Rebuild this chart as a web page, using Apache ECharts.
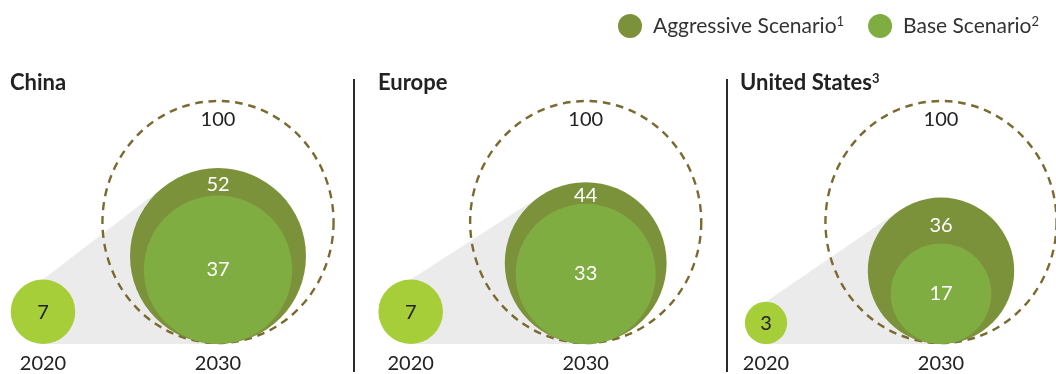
<!DOCTYPE html>
<html>
<head>
<meta charset="utf-8">
<script src="https://cdn.jsdelivr.net/npm/echarts@6/dist/echarts.min.js"></script>
<style>
  html, body { margin: 0; padding: 0; background: #fff; }
  #chart { width: 1056px; height: 374px; }
</style>
</head>
<body>
<div id="chart"></div>
<script>
// Installed base in 2020 and the two 2030 scenarios, per region (index = 100 for the reference ring)
const regions = ['China', 'Europe', 'United States'];
const regionNotes = ['', '', '3'];
const years = ['2020', '2030'];
const installed2020 = [7, 7, 3];
const aggressive2030 = [52, 44, 36];
const base2030 = [37, 33, 17];
const reference2030 = [100, 100, 100];
const scenarioNames = ['Aggressive Scenario', 'Base Scenario'];
const scenarioNotes = ['1', '2'];

const FONT = 'Lato';
const COLORS = {
  y2020: '#a6ce39',
  aggressive: '#7b923b',
  base: '#80ad41',
  ring: '#7a6a30',
  cone: '#ebebeb',
  dark: '#222222'
};
// left edge of each panel's grid = centre of its 2020 bubble
const panelLeft = [43, 410.7, 766];
const titleLeft = [5, 373, 735];
const yearGap = 175;

// bubble area is proportional to the value; the 100 ring has radius 1 axis unit
const rad = v => Math.sqrt(v / 100);

function bubble(api, x, v) {
  const r = api.size([0, rad(v)])[1];
  const c = api.coord([x, rad(v)]);
  return { cx: c[0], cy: c[1], r: r };
}

const grid = [], xAxis = [], yAxis = [], series = [], title = [];

regions.forEach((name, i) => {
  grid.push({ left: panelLeft[i], width: yearGap, top: 100, height: 247 });
  xAxis.push({
    gridIndex: i, type: 'value', min: 0, max: 1, interval: 1,
    axisLine: { show: false }, axisTick: { show: false }, splitLine: { show: false },
    axisLabel: {
      show: true, margin: 10, fontSize: 20, color: COLORS.dark, fontFamily: FONT,
      formatter: v => years[v]
    }
  });
  yAxis.push({ gridIndex: i, type: 'value', min: 0, max: 2, show: false });

  title.push({
    text: '{b|' + name + '}' + (regionNotes[i] ? '{sup|' + regionNotes[i] + '}' : ''),
    left: titleLeft[i], top: 67,
    textStyle: {
      rich: {
        b: { fontSize: 22, fontWeight: 'bold', color: COLORS.dark, fontFamily: FONT },
        sup: { fontSize: 13, fontWeight: 'bold', color: COLORS.dark, fontFamily: FONT, verticalAlign: 'top' }
      }
    }
  });

  const common = { type: 'custom', xAxisIndex: i, yAxisIndex: i, encode: { x: 0, y: 1 }, silent: true, clip: false };

  // grey cone from the 2020 bubble to the aggressive 2030 bubble
  series.push(Object.assign({}, common, {
    name: 'cone-' + i,
    data: [[0, installed2020[i], aggressive2030[i]]],
    renderItem: (params, api) => {
      const s = bubble(api, api.value(0), api.value(1));
      const b = bubble(api, 1, api.value(2));
      const px = s.cx, py = s.cy - s.r;
      const dx = px - b.cx, dy = py - b.cy;
      const d = Math.sqrt(dx * dx + dy * dy);
      const theta = Math.atan2(dy, dx);
      const alpha = Math.acos(b.r / d);
      const t1 = [b.cx + b.r * Math.cos(theta + alpha), b.cy + b.r * Math.sin(theta + alpha)];
      const t2 = [b.cx + b.r * Math.cos(theta - alpha), b.cy + b.r * Math.sin(theta - alpha)];
      const t = t1[1] < t2[1] ? t1 : t2;
      const bottom = b.cy + b.r;
      return {
        type: 'polygon',
        shape: { points: [[px, py], t, [b.cx, b.cy], [b.cx, bottom], [px, bottom]] },
        style: { fill: COLORS.cone }
      };
    }
  }));

  // 2020 bubble
  series.push(Object.assign({}, common, {
    name: '2020-' + i,
    data: [[0, installed2020[i]]],
    renderItem: (params, api) => {
      const s = bubble(api, api.value(0), api.value(1));
      return { type: 'circle', shape: s, style: { fill: COLORS.y2020 } };
    }
  }));

  // dashed 100 reference ring
  series.push(Object.assign({}, common, {
    name: 'ref-' + i,
    data: [[1, reference2030[i]]],
    renderItem: (params, api) => {
      const s = bubble(api, api.value(0), api.value(1));
      return {
        type: 'circle', x: s.cx, y: s.cy, scaleX: 0.955,
        shape: { cx: 0, cy: 0, r: s.r - 1 },
        style: { fill: 'none', stroke: COLORS.ring, lineWidth: 2.5, lineDash: [8, 6], strokeNoScale: true }
      };
    }
  }));

  // aggressive scenario
  series.push(Object.assign({}, common, {
    name: scenarioNames[0],
    itemStyle: { color: COLORS.aggressive },
    data: [[1, aggressive2030[i]]],
    renderItem: (params, api) => {
      const s = bubble(api, api.value(0), api.value(1));
      return { type: 'circle', shape: s, style: { fill: COLORS.aggressive } };
    }
  }));

  // base scenario
  series.push(Object.assign({}, common, {
    name: scenarioNames[1],
    itemStyle: { color: COLORS.base },
    data: [[1, base2030[i]]],
    renderItem: (params, api) => {
      const s = bubble(api, api.value(0), api.value(1));
      return { type: 'circle', shape: s, style: { fill: COLORS.base } };
    }
  }));

  // value labels
  series.push(Object.assign({}, common, {
    name: 'labels-' + i,
    data: [[0, installed2020[i], installed2020[i], aggressive2030[i], base2030[i], reference2030[i]]],
    renderItem: (params, api) => {
      const s = bubble(api, 0, api.value(2));
      const a = bubble(api, 1, api.value(3));
      const b = bubble(api, 1, api.value(4));
      const ref = bubble(api, 1, api.value(5));
      const aTop = a.cy - a.r, bTop = b.cy - b.r;
      const txt = (x, y, text, fill) => ({
        type: 'text', x: x, y: y,
        style: { text: String(text), fill: fill, fontSize: 20, fontFamily: FONT, align: 'center', verticalAlign: 'middle' }
      });
      return {
        type: 'group',
        children: [
          txt(s.cx, s.cy + 1, api.value(2), COLORS.dark),
          txt(ref.cx, ref.cy - ref.r + 20, api.value(5), COLORS.dark),
          txt(a.cx, aTop + 0.6 * (bTop - aTop), api.value(3), '#ffffff'),
          txt(b.cx, b.cy, api.value(4), '#ffffff')
        ]
      };
    }
  }));
});

const chart = echarts.init(document.getElementById('chart'), null, { renderer: 'canvas' });
chart.setOption({
  backgroundColor: '#ffffff',
  animation: false,
  title: title,
  legend: {
    data: scenarioNames,
    left: 613, top: 9,
    icon: 'circle', itemWidth: 24, itemHeight: 24, itemGap: 24,
    selectedMode: false,
    formatter: n => n + '{sup|' + scenarioNotes[scenarioNames.indexOf(n)] + '}',
    textStyle: {
      fontSize: 21, color: '#333333', fontFamily: FONT, padding: [0, 0, 0, 6],
      rich: { sup: { fontSize: 13, color: '#333333', fontFamily: FONT, verticalAlign: 'top' } }
    }
  },
  grid: grid,
  xAxis: xAxis,
  yAxis: yAxis,
  series: series,
  graphic: [
    { type: 'line', shape: { x1: 354, y1: 79, x2: 354, y2: 372 }, style: { stroke: '#2b2b2b', lineWidth: 2 } },
    { type: 'line', shape: { x1: 727, y1: 79, x2: 727, y2: 372 }, style: { stroke: '#2b2b2b', lineWidth: 2 } }
  ]
});
</script>
</body>
</html>
